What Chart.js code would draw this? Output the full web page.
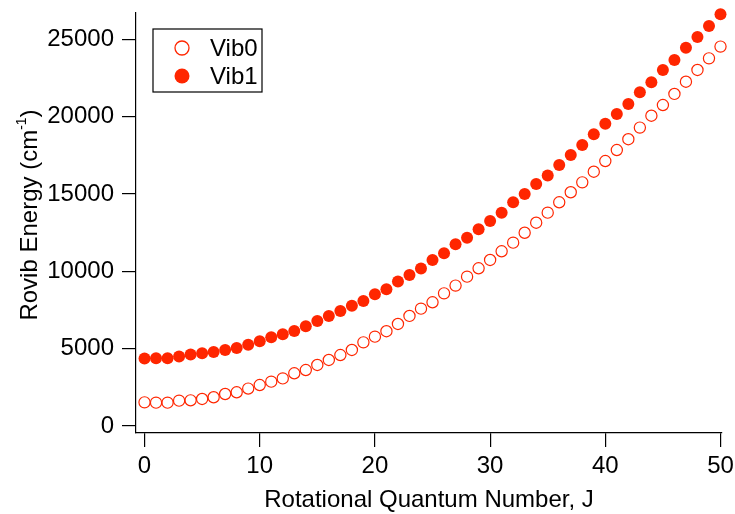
<!DOCTYPE html>
<html>
<head>
<meta charset="utf-8">
<script src="https://cdn.jsdelivr.net/npm/chart.js@4/dist/chart.umd.min.js"></script>
<style>
  html, body { margin: 0; padding: 0; background: #fff; }
  canvas { display: block; }
</style>
</head>
<body>
<canvas id="chart" width="735" height="514"></canvas>
<script>
// rotational quantum number J
const J = [0, 1, 2, 3, 4, 5, 6, 7, 8, 9, 10, 11, 12, 13, 14, 15, 16, 17, 18, 19, 20,
  21, 22, 23, 24, 25, 26, 27, 28, 29, 30, 31, 32, 33, 34, 35, 36, 37, 38, 39, 40,
  41, 42, 43, 44, 45, 46, 47, 48, 49, 50];

// rovib energies (cm-1)
const vib0 = [1530, 1510, 1510, 1640, 1660, 1750, 1860, 2070, 2180, 2420, 2650,
  2870, 3080, 3410, 3620, 3950, 4270, 4590, 4920, 5410, 5780,
  6130, 6600, 7120, 7590, 8000, 8580, 9080, 9660, 10200, 10740,
  11300, 11860, 12500, 13150, 13800, 14470, 15120, 15760, 16450, 17140,
  17850, 18550, 19300, 20070, 20760, 21480, 22270, 23030, 23780, 24540];

const vib1 = [4360, 4380, 4380, 4500, 4620, 4700, 4790, 4920, 5050, 5260, 5480,
  5740, 5930, 6150, 6450, 6790, 7120, 7440, 7780, 8090, 8520,
  8850, 9340, 9770, 10180, 10740, 11170, 11750, 12180, 12720, 13260,
  13800, 14470, 15010, 15650, 16210, 16880, 17530, 18180, 18870, 19550,
  20180, 20830, 21590, 22230, 23030, 23670, 24470, 25160, 25870, 26630];

const xTicks = [0, 10, 20, 30, 40, 50];
const yTicks = [0, 5000, 10000, 15000, 20000, 25000];

const RED = "rgb(255,38,0)";
const FONT = "'Liberation Sans', Arial, sans-serif";

function pts(ys) {
  return J.map((j, i) => ({ x: j, y: ys[i] }));
}

// legend box + axis titles (title on y has a superscript)
const extras = {
  id: "extras",
  afterDraw(chart) {
    const ctx = chart.ctx;
    const ca = chart.chartArea;
    ctx.save();

    // legend
    const bx = ca.left + 17, by = ca.top + 16;
    ctx.strokeStyle = "#000";
    ctx.lineWidth = 1.2;
    ctx.strokeRect(bx, by, 109, 63);
    ctx.font = "24px " + FONT;
    ctx.fillStyle = "#000";
    ctx.textBaseline = "alphabetic";
    ctx.textAlign = "left";
    ctx.beginPath();
    ctx.arc(bx + 29, by + 19, 7, 0, Math.PI * 2);
    ctx.strokeStyle = RED;
    ctx.lineWidth = 1.3;
    ctx.stroke();
    ctx.fillText("Vib0", bx + 57, by + 27);
    ctx.beginPath();
    ctx.arc(bx + 29, by + 47, 7.5, 0, Math.PI * 2);
    ctx.fillStyle = RED;
    ctx.fill();
    ctx.fillStyle = "#000";
    ctx.fillText("Vib1", bx + 57, by + 55);

    // x title
    ctx.textAlign = "center";
    ctx.fillText("Rotational Quantum Number, J", (ca.left + ca.right) / 2, 507);

    // y title
    const big = "24px " + FONT, small = "14px " + FONT;
    ctx.font = big;
    const w1 = ctx.measureText("Rovib Energy (cm").width;
    const w3 = ctx.measureText(")").width;
    ctx.font = small;
    const w2 = ctx.measureText("-1").width;
    const total = w1 + w2 + w3;
    ctx.translate(37, (ca.top + ca.bottom) / 2 - 8);
    ctx.rotate(-Math.PI / 2);
    ctx.textAlign = "left";
    const x0 = -total / 2;
    ctx.font = big;
    ctx.fillText("Rovib Energy (cm", x0, 0);
    ctx.font = small;
    ctx.fillText("-1", x0 + w1, -11);
    ctx.font = big;
    ctx.fillText(")", x0 + w1 + w2, 0);
    ctx.restore();
  }
};

new Chart(document.getElementById("chart"), {
  type: "scatter",
  data: {
    datasets: [
      {
        label: "Vib0",
        data: pts(vib0),
        pointStyle: "circle",
        pointRadius: 5.6,
        pointBorderWidth: 1.2,
        pointBackgroundColor: "rgba(255,255,255,0)",
        pointBorderColor: RED,
        showLine: false
      },
      {
        label: "Vib1",
        data: pts(vib1),
        pointStyle: "circle",
        pointRadius: 6,
        pointBorderWidth: 0,
        pointBackgroundColor: RED,
        pointBorderColor: RED,
        showLine: false
      }
    ]
  },
  options: {
    responsive: false,
    animation: false,
    clip: false,
    layout: { padding: { top: 13, right: 13, left: 0, bottom: 0 } },
    plugins: { legend: { display: false }, tooltip: { enabled: false } },
    scales: {
      x: {
        type: "linear",
        min: -0.74,
        max: 50.13,
        afterBuildTicks: s => { s.ticks = xTicks.map(v => ({ value: v })); },
        afterFit: s => { s.height = 81; s.paddingLeft = 0; s.paddingRight = 0; },
        border: { display: true, color: "#000", width: 1.2 },
        grid: { drawOnChartArea: false, drawTicks: true, tickLength: 14, color: "#000", lineWidth: 1.2 },
        ticks: { color: "#000", font: { family: FONT, size: 24 }, padding: 5, maxRotation: 0 }
      },
      y: {
        type: "linear",
        min: -453,
        max: 26714,
        afterBuildTicks: s => { s.ticks = yTicks.map(v => ({ value: v })); },
        afterFit: s => { s.width = 136; s.paddingTop = 0; s.paddingBottom = 0; },
        border: { display: true, color: "#000", width: 1.2 },
        grid: { drawOnChartArea: false, drawTicks: true, tickLength: 14, color: "#000", lineWidth: 1.2 },
        ticks: { color: "#000", font: { family: FONT, size: 24 }, padding: 8, callback: v => String(v) }
      }
    }
  },
  plugins: [extras]
});
</script>
</body>
</html>
